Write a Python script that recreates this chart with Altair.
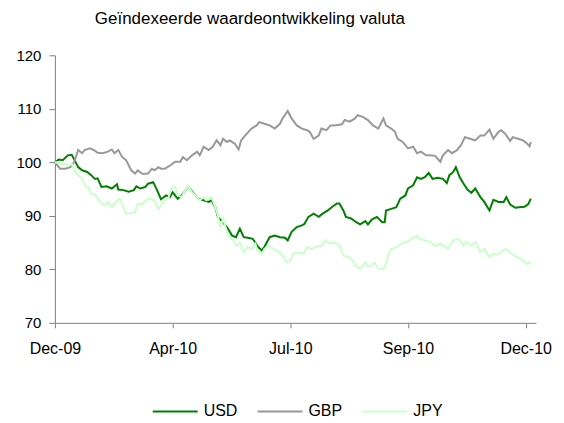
import altair as alt
import pandas as pd

# Calendar days since 31 Dec 2009 and index values
usd_day = [0, 3, 6, 10, 13, 15, 18, 21, 25, 28, 31, 33, 36, 40, 44, 48, 49, 53, 57, 61, 63, 66, 70, 72,
           76, 79, 82, 86, 89, 91, 95, 99, 103, 107, 111, 115, 119, 121, 124, 126, 129, 133, 137, 140,
           143, 146, 149, 153, 157, 160, 162, 166, 170, 174, 178, 180, 183, 187, 191, 193, 196, 200,
           204, 207, 211, 214, 218, 220, 223, 225, 229, 233, 236, 240, 242, 245, 249, 253, 255, 256,
           260, 264, 267, 271, 273, 277, 280, 283, 286, 289, 292, 296, 300, 303, 305, 308, 310, 313,
           316, 319, 322, 325, 329, 332, 336, 339, 343, 347, 349, 352, 356, 359, 363, 366, 368]
usd_val = [100.0, 100.5, 100.4, 101.3, 101.4, 100.5, 99.1, 98.5, 98.2, 97.6, 96.9, 97.0, 95.4, 95.5,
           95.1, 95.9, 94.9, 94.8, 94.5, 94.8, 95.5, 95.1, 95.4, 96.0, 96.3, 94.8, 93.1, 93.8, 93.5,
           94.4, 93.2, 94.1, 95.4, 94.3, 93.2, 92.9, 92.6, 92.9, 91.6, 89.8, 89.0, 87.9, 86.3, 86.0,
           87.6, 86.0, 85.9, 85.7, 84.2, 83.5, 84.2, 86.0, 86.3, 86.0, 85.9, 85.4, 87.0, 87.9, 88.2,
           88.5, 89.8, 90.4, 89.8, 90.4, 91.0, 91.6, 92.3, 92.3, 91.0, 89.8, 89.5, 88.8, 88.4, 89.0,
           88.4, 89.3, 89.8, 88.8, 88.8, 91.0, 91.3, 91.6, 93.2, 93.8, 95.1, 95.7, 97.2, 96.9, 97.2,
           98.0, 96.9, 97.1, 96.9, 96.1, 97.6, 98.2, 99.1, 97.2, 96.0, 94.9, 94.3, 95.1, 93.5, 92.6,
           91.0, 93.0, 92.6, 92.6, 93.5, 92.1, 91.5, 91.6, 91.7, 92.2, 93.2]

gbp_day = [0, 4, 8, 12, 15, 18, 21, 23, 27, 30, 33, 37, 41, 44, 46, 49, 52, 55, 59, 62, 64, 68, 72,
           75, 77, 80, 82, 85, 89, 93, 97, 99, 102, 106, 110, 112, 115, 119, 122, 125, 128, 130, 133,
           135, 139, 142, 144, 147, 152, 156, 158, 162, 166, 170, 174, 176, 180, 183, 187, 191, 195,
           197, 200, 204, 206, 210, 213, 216, 222, 224, 228, 232, 234, 238, 242, 246, 250, 254, 256,
           260, 263, 265, 269, 273, 277, 280, 283, 287, 290, 294, 298, 300, 304, 307, 311, 314, 317,
           321, 325, 329, 332, 336, 339, 343, 345, 348, 352, 354, 358, 362, 365, 367, 368]
gbp_val = [100.0, 98.8, 98.8, 99.1, 100.1, 102.3, 101.7, 102.3, 102.6, 102.3, 101.8, 101.7, 102.0,
           102.4, 101.7, 102.3, 101.0, 100.4, 98.5, 97.9, 98.5, 97.8, 97.9, 98.8, 98.5, 99.1, 98.8,
           98.8, 99.4, 100.1, 100.1, 101.0, 100.4, 101.3, 102.0, 101.3, 102.9, 102.3, 102.9, 104.1,
           103.2, 104.4, 103.8, 104.1, 103.5, 102.4, 104.1, 105.0, 106.3, 106.9, 107.5, 107.2, 106.9,
           106.3, 107.2, 108.2, 109.6, 108.2, 106.9, 106.3, 106.0, 105.7, 104.4, 105.0, 106.3, 106.0,
           106.9, 106.9, 107.1, 107.9, 107.6, 108.2, 108.8, 108.5, 107.9, 106.9, 106.3, 108.2, 106.9,
           106.3, 105.7, 104.4, 103.8, 102.6, 102.9, 101.7, 102.0, 101.3, 101.3, 101.2, 100.1, 101.3,
           102.3, 101.7, 102.3, 103.2, 104.7, 104.4, 104.1, 105.0, 105.0, 106.1, 104.4, 105.7, 106.0,
           105.4, 104.0, 104.7, 104.4, 104.1, 103.5, 103.0, 103.8]

jpy_day = [0, 3, 5, 8, 10, 13, 15, 18, 21, 23, 26, 28, 31, 33, 36, 39, 41, 44, 48, 50, 53, 55, 58,
           62, 64, 67, 70, 73, 77, 80, 84, 88, 90, 93, 95, 98, 100, 103, 106, 110, 112, 115, 117, 121,
           124, 126, 128, 130, 133, 135, 138, 140, 143, 146, 149, 152, 155, 157, 160, 162, 165, 169,
           173, 176, 179, 182, 184, 188, 192, 195, 198, 202, 206, 209, 213, 216, 220, 223, 227, 229,
           232, 236, 240, 242, 245, 247, 250, 254, 256, 258, 260, 264, 268, 272, 276, 280, 282, 286,
           290, 294, 298, 301, 304, 308, 312, 316, 318, 322, 325, 329, 332, 336, 339, 343, 346, 349,
           353, 357, 360, 365, 367, 368]
jpy_val = [100.0, 100.0, 99.4, 99.8, 99.4, 99.7, 98.4, 97.6, 96.9, 95.7, 95.3, 94.1, 94.0, 93.2, 92.3,
           92.0, 92.6, 91.6, 92.9, 93.2, 91.6, 90.4, 90.5, 90.7, 92.3, 92.1, 92.9, 93.2, 92.9, 91.3,
           92.6, 93.5, 95.1, 95.5, 93.8, 93.5, 94.4, 95.5, 94.4, 93.5, 92.9, 93.5, 92.9, 93.5, 91.6,
           90.1, 87.9, 89.5, 87.0, 86.0, 85.4, 84.4, 85.0, 83.2, 84.2, 83.8, 84.8, 83.2, 82.9, 83.8,
           84.4, 83.8, 83.2, 82.6, 81.3, 81.6, 82.9, 83.2, 82.9, 84.2, 83.8, 84.2, 84.4, 85.4, 84.8,
           85.1, 84.4, 82.6, 82.3, 82.0, 80.8, 80.1, 81.3, 80.4, 80.8, 81.3, 80.1, 80.1, 81.0, 82.9,
           83.8, 84.2, 84.8, 85.1, 85.7, 86.3, 85.7, 85.4, 85.1, 84.4, 84.8, 84.4, 83.8, 85.4, 85.7,
           84.4, 85.1, 84.4, 85.1, 83.2, 83.8, 82.3, 82.9, 82.8, 83.5, 83.8, 82.9, 82.3, 82.0, 81.0,
           81.3, 81.3]

series_names = ["USD", "GBP", "JPY"]
series_colors = ["#008000", "#999999", "#CCFFCC"]
tick_days = [0, 91, 182, 273, 364]
tick_labels = ["Dec-09", "Apr-10", "Jul-10", "Sep-10", "Dec-10"]
y_ticks = [70, 80, 90, 100, 110, 120]
title_text = "Geïndexeerde waardeontwikkeling valuta"

frames = []
for name, days, vals in [("USD", usd_day, usd_val), ("GBP", gbp_day, gbp_val), ("JPY", jpy_day, jpy_val)]:
    frames.append(pd.DataFrame({"day": days, "value": vals, "series": name}))
df = pd.concat(frames, ignore_index=True)

label_expr = " : ".join(
    f"datum.value == {d} ? '{l}'" for d, l in zip(tick_days, tick_labels)
) + " : ''"

FONT = "Liberation Sans"

chart = alt.Chart(df).mark_line(strokeWidth=2).encode(
    x=alt.X("day:Q",
            scale=alt.Scale(domain=[0, 372], nice=False, zero=False),
            axis=alt.Axis(values=tick_days, labelExpr=label_expr, title=None, grid=False,
                          tickSize=5, labelPadding=13, labelFontSize=16, labelFont=FONT,
                          labelColor="#000000", domainColor="#808080", tickColor="#808080",
                          labelFlush=False)),
    y=alt.Y("value:Q",
            scale=alt.Scale(domain=[70, 120], nice=False, zero=False),
            axis=alt.Axis(values=y_ticks, title=None, grid=False, tickSize=6, labelPadding=8,
                          labelFontSize=15, labelFont=FONT, labelColor="#000000",
                          domainColor="#808080", tickColor="#808080")),
    color=alt.Color("series:N",
                    scale=alt.Scale(domain=series_names, range=series_colors),
                    sort=series_names,
                    legend=alt.Legend(title=None, orient="none", legendX=97, legendY=333,
                                      direction="horizontal", symbolType="stroke",
                                      symbolSize=2025, symbolStrokeWidth=2, labelFontSize=16,
                                      labelFont=FONT, labelColor="#000000", labelOffset=5,
                                      columnPadding=16)),
    order=alt.Order("day:Q"),
).properties(
    width=482,
    height=268,
    title=alt.TitleParams(title_text, anchor="start", dx=79, offset=20, fontSize=17,
                          font=FONT, fontWeight="normal", color="#000000"),
    padding={"left": 47, "top": 47, "right": 20, "bottom": 100},
    autosize="none",
).configure_view(stroke=None)

chart.save("out.html", embed_options={"renderer": "svg", "actions": False})
